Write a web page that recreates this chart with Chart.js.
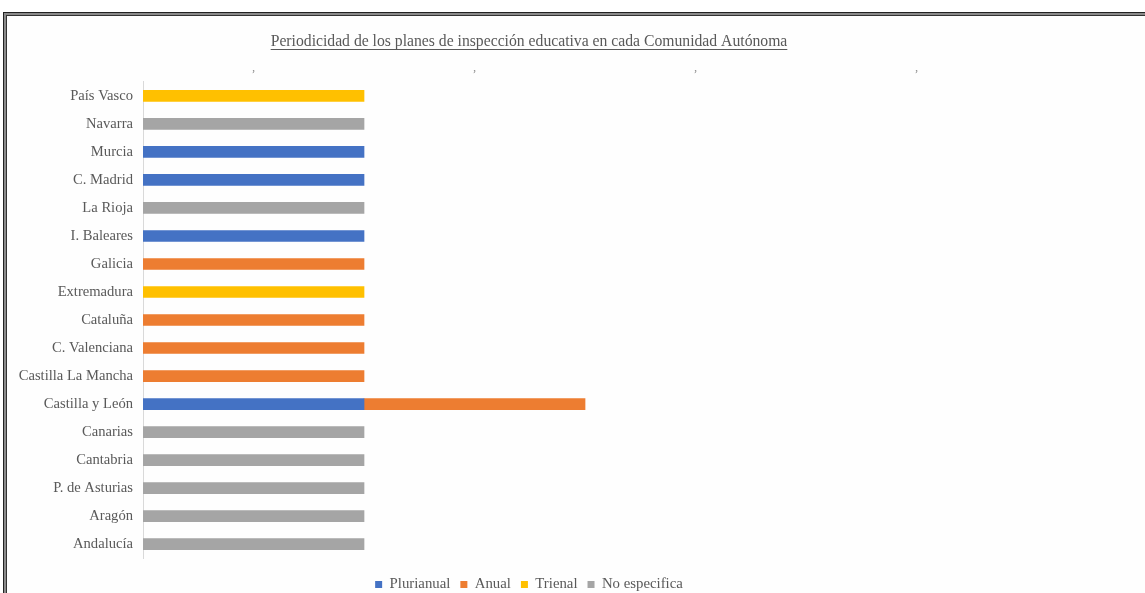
<!DOCTYPE html>
<html>
<head>
<meta charset="utf-8">
<script src="https://cdn.jsdelivr.net/npm/chart.js@4"></script>
<style>
	html, body { margin: 0; padding: 0; background: #fff; overflow: hidden; }
	#wrap { position: relative; width: 1145px; height: 593px; overflow: hidden; }
	.frame { position: absolute; left: 3px; top: 12px; width: 1160px; height: 600px; border-top: 1px solid #222; border-left: 1px solid #222; }
	.frame2 { position: absolute; left: 0; top: 0; right: 0; bottom: 0; border-top: 2px solid #8a8a8a; border-left: 2px solid #8a8a8a; }
	.frame3 { position: absolute; left: 0; top: 0; right: 0; bottom: 0; border-top: 1px solid #333; border-left: 1px solid #333; background: #fefefe; }
	canvas { position: absolute; left: 0; top: 0; }
</style>
</head>
<body>
<div id="wrap">
	<div class="frame"><div class="frame2"><div class="frame3"></div></div></div>
	<canvas id="planChart" width="1145" height="602"></canvas>
</div>
<script>
// comunidades, de abajo (Andalucía) hacia arriba (País Vasco)
var comunidades = ['Andalucía', 'Aragón', 'P. de Asturias', 'Cantabria', 'Canarias', 'Castilla y León',
	'Castilla La Mancha', 'C. Valenciana', 'Cataluña', 'Extremadura', 'Galicia', 'I. Baleares',
	'La Rioja', 'C. Madrid', 'Murcia', 'Navarra', 'País Vasco'];

var plurianual   = [null, null, null, null, null, 1, null, null, null, null, null, 1, null, 1, 1, null, null];
var anual        = [null, null, null, null, null, 1, 1, 1, 1, null, 1, null, null, null, null, null, null];
var trienal      = [null, null, null, null, null, null, null, null, null, 1, null, null, null, null, null, null, 1];
var noEspecifica = [1, 1, 1, 1, 1, null, null, null, null, null, null, null, 1, null, null, 1, null];

var seriesNames = ['Plurianual', 'Anual', 'Trienal', 'No especifica'];
var colors = ['#4472C4', '#ED7D31', '#FFC000', '#A5A5A5'];
var topTicks = [0.5, 1.5, 2.5, 3.5];
var xMax = 4.14;

var chartTitle = 'Periodicidad de los planes de inspección educativa en cada Comunidad Autónoma';

Chart.defaults.font.family = "'Liberation Serif', 'Times New Roman', serif";
Chart.defaults.color = '#595959';

// subrayado del título
var underlinePlugin = {
	id: 'underline',
	afterDraw: function(chart){
		let t = chart.titleBlock;
		if(!t) return;
		let ctx = chart.ctx;
		ctx.save();
		ctx.font = "15.7px 'Liberation Serif', serif";
		let w = ctx.measureText(chartTitle).width;
		let cx = (t.left + t.right) / 2;
		ctx.strokeStyle = '#595959';
		ctx.lineWidth = 1;
		ctx.beginPath();
		ctx.moveTo(cx - w / 2, 49.5);
		ctx.lineTo(cx + w / 2, 49.5);
		ctx.stroke();
		ctx.restore();
	}
};

let datasets = [];
let values = [plurianual, anual, trienal, noEspecifica];
for(let i = 0; i < seriesNames.length; i++){
	datasets.push({
		label: seriesNames[i],
		data: values[i],
		backgroundColor: colors[i],
		borderWidth: 0,
		barThickness: 11
	});
}

const config = {
	type: 'bar',
	data: {
		labels: comunidades,
		datasets: datasets
	},
	options: {
		indexAxis: 'y',
		responsive: false,
		animation: false,
		layout: {
			padding: {left: 0, right: 87, top: 0, bottom: 0}
		},
		scales: {
			x: {
				position: 'top',
				stacked: true,
				min: 0,
				max: xMax,
				afterBuildTicks: function(axis){
					axis.ticks = topTicks.map(v => ({value: v}));
				},
				afterFit: function(scale){
					scale.height = 31;
				},
				grid: {display: false, drawTicks: false},
				border: {display: false},
				ticks: {
					autoSkip: false,
					maxRotation: 0,
					padding: 0,
					color: '#8c8c8c',
					font: {size: 12},
					callback: function(){ return '\u2019'; }
				}
			},
			y: {
				stacked: true,
				reverse: true,
				afterFit: function(scale){
					scale.width = 143;
				},
				grid: {display: false, drawTicks: false},
				border: {display: true, color: '#D9D9D9', width: 1},
				ticks: {
					padding: 10,
					color: '#595959',
					font: {size: 14.6}
				}
			}
		},
		plugins: {
			title: {
				display: true,
				text: chartTitle,
				color: '#595959',
				font: {size: 15.7, weight: 'normal', lineHeight: 1.2},
				padding: {top: 32, bottom: 0}
			},
			legend: {
				position: 'bottom',
				// título vacío: solo sirve de separación sobre la leyenda
				title: {
					display: true,
					text: '',
					font: {size: 5, lineHeight: 1},
					padding: {top: 0, bottom: 4}
				},
				labels: {
					boxWidth: 7,
					boxHeight: 7,
					padding: 10,
					color: '#595959',
					font: {size: 14.8}
				}
			},
			tooltip: {enabled: false}
		}
	},
	plugins: [underlinePlugin]
};

var chartPlan = new Chart(document.getElementById('planChart'), config);
</script>
</body>
</html>
